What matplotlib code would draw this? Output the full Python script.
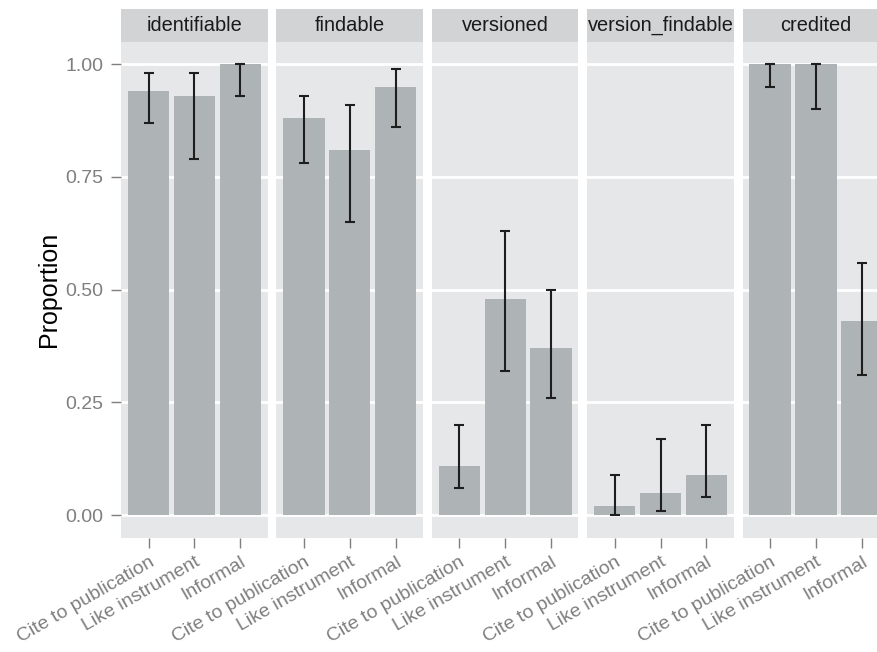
import matplotlib
matplotlib.use("Agg")
import matplotlib.pyplot as plt
import numpy as np

# Data
facets = ["identifiable", "findable", "versioned", "version_findable", "credited"]
methods = ["Cite to publication", "Like instrument", "Informal"]
proportion = [
    [0.94, 0.93, 1.00],
    [0.88, 0.81, 0.95],
    [0.11, 0.48, 0.37],
    [0.02, 0.05, 0.09],
    [1.00, 1.00, 0.43],
]
lower = [
    [0.87, 0.79, 0.93],
    [0.78, 0.65, 0.86],
    [0.06, 0.32, 0.26],
    [0.00, 0.01, 0.04],
    [0.95, 0.90, 0.31],
]
upper = [
    [0.98, 0.98, 1.00],
    [0.93, 0.91, 0.99],
    [0.20, 0.63, 0.50],
    [0.09, 0.17, 0.20],
    [1.00, 1.00, 0.56],
]
y_ticks = [0.00, 0.25, 0.50, 0.75, 1.00]

plt.rcParams["font.family"] = ["Liberation Sans", "DejaVu Sans"]

W, H = 878, 652
fig = plt.figure(figsize=(W / 100, H / 100), dpi=100)


def px_rect(x0, y0, x1, y1):
    return [x0 / W, 1 - y1 / H, (x1 - x0) / W, (y1 - y0) / H]


panel_bg = "#E6E7E8"
strip_bg = "#D1D3D4"
bar_color = "#AEB3B5"
tick_grey = "#7F7F7F"

x = np.arange(1, len(methods) + 1)
panel_w = 146.7
step = 155.4
for i, facet in enumerate(facets):
    left = 121 + i * step
    ax = fig.add_axes(px_rect(left, 41.7, left + panel_w, 537.7))
    ax.set_facecolor(panel_bg)
    p = np.array(proportion[i])
    lo = np.array(lower[i])
    hi = np.array(upper[i])
    ax.bar(x, p, width=0.9, color=bar_color, zorder=2)
    ax.errorbar(x, p, yerr=[p - lo, hi - p], fmt="none", ecolor="#1E1E1E",
                elinewidth=1.5, capsize=3.3, capthick=1.5, zorder=3)
    ax.set_xlim(0.4, 3.6)
    ax.set_ylim(-0.05, 1.05)
    ax.set_yticks(y_ticks)
    ax.set_yticklabels([f"{v:.2f}" for v in y_ticks])
    ax.yaxis.grid(True, color="white", linewidth=2, zorder=1)
    ax.set_axisbelow(True)
    for s in ax.spines.values():
        s.set_visible(False)
    ax.set_xticks(x)
    ax.set_xticklabels(methods, rotation=30, ha="right", va="top",
                       rotation_mode="anchor")
    ax.tick_params(axis="x", length=7.5, width=1, color=tick_grey,
                   labelcolor=tick_grey, labelsize=14, pad=4)
    if i == 0:
        ax.tick_params(axis="y", length=7.5, width=1, color=tick_grey,
                       labelcolor=tick_grey, labelsize=14, pad=5)
        ax.set_ylabel("Proportion", fontsize=18, color="black", labelpad=3)
    else:
        ax.tick_params(axis="y", length=0, labelleft=False)

    # facet strip
    sax = fig.add_axes(px_rect(left, 9, left + panel_w, 41.7))
    sax.set_facecolor(strip_bg)
    sax.set_xticks([])
    sax.set_yticks([])
    for s in sax.spines.values():
        s.set_visible(False)
    sax.text(0.5, 0.5, facet, ha="center", va="center", fontsize=14.4,
             color="#1A1A1A", transform=sax.transAxes, clip_on=True)

fig.savefig("out.png", dpi=100, facecolor="white")
